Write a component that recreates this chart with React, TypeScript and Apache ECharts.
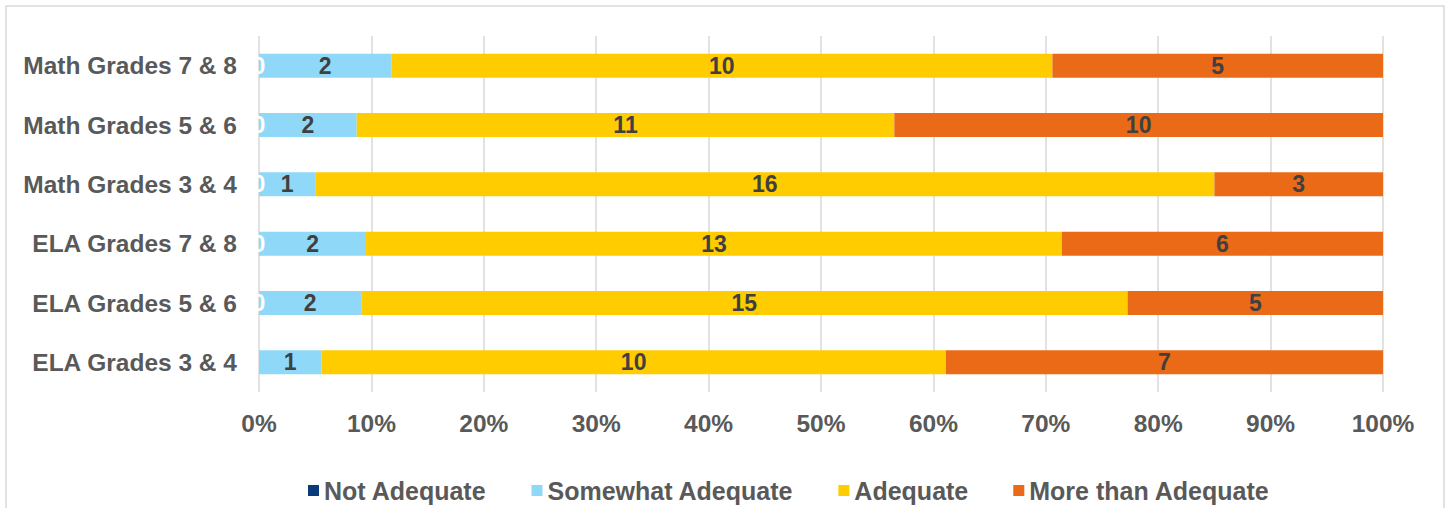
import React, { useEffect, useRef } from "react";
import * as echarts from "echarts";

const categories = [
  "ELA Grades 3 & 4",
  "ELA Grades 5 & 6",
  "ELA Grades 7 & 8",
  "Math Grades 3 & 4",
  "Math Grades 5 & 6",
  "Math Grades 7 & 8",
];
const seriesNames = ["Not Adequate", "Somewhat Adequate", "Adequate", "More than Adequate"];
const notAdequate: (number | null)[] = [null, 0, 0, 0, 0, 0];
const somewhatAdequate = [1, 2, 2, 1, 2, 2];
const adequate = [10, 15, 13, 16, 11, 10];
const moreThanAdequate = [7, 5, 6, 3, 10, 5];
const colors = ["#0B3A7A", "#8FD8F8", "#FFCC00", "#EA6A17"];
const xTicks = ["0%", "10%", "20%", "30%", "40%", "50%", "60%", "70%", "80%", "90%", "100%"];

export default function App() {
  const ref = useRef<HTMLDivElement>(null);
  useEffect(() => {
    document.body.style.margin = "0";
    if (!ref.current) return;
    const chart = echarts.init(ref.current, undefined, { renderer: "svg" });
    const raw = [notAdequate, somewhatAdequate, adequate, moreThanAdequate];
    const totals = categories.map((_, i) =>
      raw.reduce((s, arr) => s + ((arr[i] as number) || 0), 0)
    );
    const font = "Liberation Sans, Arial, sans-serif";
    const series = raw.map((arr, si) => ({
      name: seriesNames[si],
      type: "bar",
      stack: "total",
      barWidth: 24,
      itemStyle: { color: colors[si] },
      label: {
        show: true,
        position: "inside",
        color: si === 0 ? "#FFFFFF" : "#404040",
        fontFamily: font,
        fontWeight: "bold",
        fontSize: 23,
        formatter: (p: any) => String(raw[si][p.dataIndex]),
      },
      data: arr.map((v, i) => (v === null ? null : ((v as number) / totals[i]) * 100)),
    }));
    chart.setOption({
      animation: false,
      color: colors,
      graphic: [
        {
          type: "rect",
          shape: { x: 6, y: 6, width: 1438, height: 530 },
          style: { fill: "none", stroke: "#D9D9D9", lineWidth: 1.5 },
          silent: true,
        },
      ],
      grid: { left: 259, right: 66, top: 36, bottom: 116, containLabel: false },
      xAxis: {
        type: "value",
        min: 0,
        max: 100,
        interval: 10,
        axisLine: { show: false },
        axisTick: { show: false },
        splitLine: { show: true, lineStyle: { color: "#D9D9D9", width: 1.5 } },
        axisLabel: {
          margin: 19,
          color: "#595959",
          fontFamily: font,
          fontWeight: "bold",
          fontSize: 24.5,
          formatter: (v: number) => xTicks[Math.round(v / 10)],
        },
      },
      yAxis: {
        type: "category",
        data: categories,
        axisLine: { show: false },
        axisTick: { show: false },
        axisLabel: {
          margin: 22,
          color: "#595959",
          fontFamily: font,
          fontWeight: "bold",
          fontSize: 24.5,
        },
      },
      legend: {
        left: 303,
        top: 473,
        itemWidth: 11,
        itemHeight: 11,
        itemGap: 45,
        icon: "rect",
        textStyle: { color: "#595959", fontFamily: font, fontWeight: "bold", fontSize: 25 },
        data: seriesNames,
      },
      series,
    });
    return () => chart.dispose();
  }, []);
  return <div ref={ref} style={{ width: 1449, height: 508 }} />;
}
